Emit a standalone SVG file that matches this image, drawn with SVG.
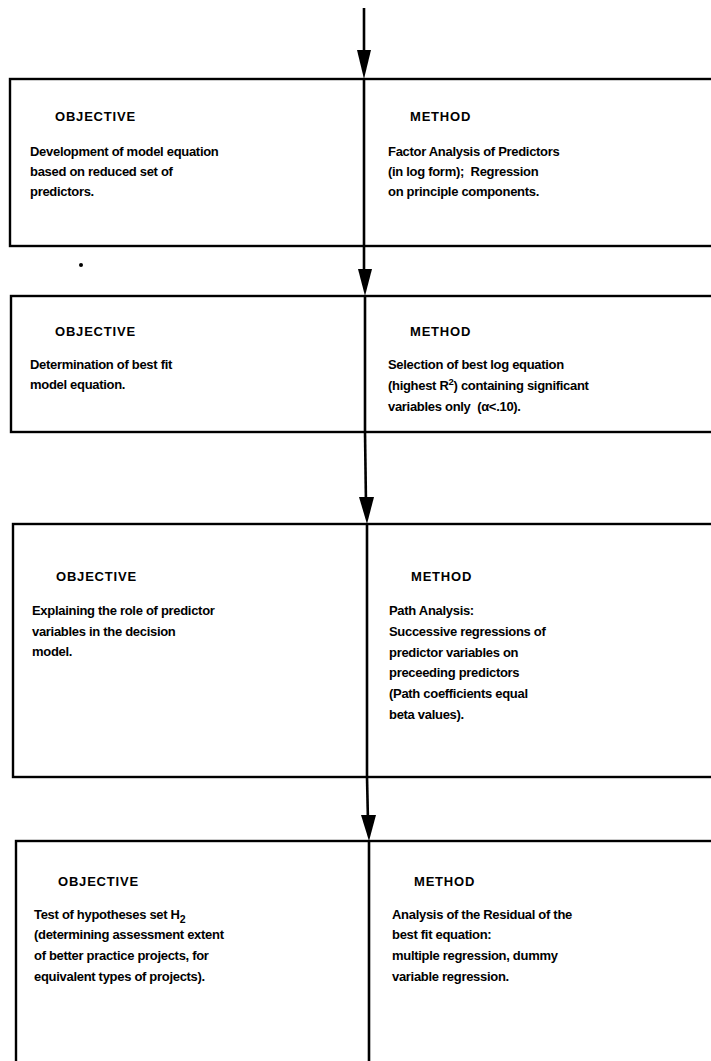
<svg xmlns="http://www.w3.org/2000/svg" width="711" height="1061" viewBox="0 0 711 1061">
  <style>
    .box { fill: #ffffff; stroke: #000000; stroke-width: 2.4; }
    .div { stroke: #000000; stroke-width: 2.6; }
    .flow { stroke: #000000; stroke-width: 2.6; fill: none; }
    .head { fill: #000000; }
    text { font-family: "Liberation Sans", Arial, sans-serif; font-weight: bold; font-size: 13px; letter-spacing: -0.3px; fill: #000000; }
    .hd { letter-spacing: 0.8px; }
  </style>
  <rect width="711" height="1061" fill="#ffffff"/>

  <!-- Stage 1 -->
  <g id="stage1">
    <rect class="box" x="10" y="79" width="720" height="167"/>
    <line class="div" x1="364" y1="79" x2="364" y2="246"/>
    <text class="hd" x="55" y="121">OBJECTIVE</text>
    <text x="30" y="156">Development of model equation</text>
    <text x="30" y="176">based on reduced set of</text>
    <text x="30" y="196">predictors.</text>
    <text class="hd" x="410" y="121">METHOD</text>
    <text x="388" y="156">Factor Analysis of Predictors</text>
    <text x="388" y="176" xml:space="preserve">(in log form);  Regression</text>
    <text x="388" y="196">on principle components.</text>
  </g>

  <!-- Stage 2 -->
  <g id="stage2">
    <rect class="box" x="11" y="296" width="720" height="136"/>
    <line class="div" x1="365" y1="296" x2="365" y2="432"/>
    <text class="hd" x="55" y="336">OBJECTIVE</text>
    <text x="30" y="369">Determination of best fit</text>
    <text x="30" y="389">model equation.</text>
    <text class="hd" x="410" y="336">METHOD</text>
    <text x="388" y="369">Selection of best log equation</text>
    <text x="388" y="390">(highest R<tspan font-size="9.5" dy="-5">2</tspan><tspan dy="5">) containing significant</tspan></text>
    <text x="388" y="411" xml:space="preserve">variables only  (α&lt;.10).</text>
  </g>

  <!-- Stage 3 -->
  <g id="stage3">
    <rect class="box" x="13" y="524" width="720" height="253"/>
    <line class="div" x1="367" y1="524" x2="367" y2="777"/>
    <text class="hd" x="56" y="581">OBJECTIVE</text>
    <text x="32" y="615">Explaining the role of predictor</text>
    <text x="32" y="636">variables in the decision</text>
    <text x="32" y="656">model.</text>
    <text class="hd" x="411" y="581">METHOD</text>
    <text x="389" y="615">Path Analysis:</text>
    <text x="389" y="636">Successive regressions of</text>
    <text x="389" y="657">predictor variables on</text>
    <text x="389" y="677">preceeding predictors</text>
    <text x="389" y="698">(Path coefficients equal</text>
    <text x="389" y="719">beta values).</text>
  </g>

  <!-- Stage 4 -->
  <g id="stage4">
    <rect class="box" x="16" y="841" width="720" height="240"/>
    <line class="div" x1="369" y1="841" x2="369" y2="1061"/>
    <text class="hd" x="58" y="886">OBJECTIVE</text>
    <text x="34" y="919">Test of hypotheses set H<tspan font-size="10.5" dy="4">2</tspan></text>
    <text x="34" y="939">(determining assessment extent</text>
    <text x="34" y="960">of better practice projects, for</text>
    <text x="34" y="981">equivalent types of projects).</text>
    <text class="hd" x="414" y="886">METHOD</text>
    <text x="392" y="919">Analysis of the Residual of the</text>
    <text x="392" y="939">best fit equation:</text>
    <text x="392" y="960">multiple regression, dummy</text>
    <text x="392" y="981">variable regression.</text>
  </g>

  <!-- Flow connectors with arrowheads -->
  <g id="connectors">
    <line class="flow" x1="364" y1="8" x2="364" y2="60"/>
    <polygon class="head" points="357,50 371,50 364,79"/>
    <line class="flow" x1="364" y1="246" x2="364" y2="278"/>
    <polygon class="head" points="358,269 372,269 365,296"/>
    <line class="flow" x1="365" y1="432" x2="366" y2="505"/>
    <polygon class="head" points="359,497 374,497 367,524"/>
    <line class="flow" x1="367" y1="777" x2="368" y2="822"/>
    <polygon class="head" points="361,815 376,815 369,841"/>
  </g>

  <!-- stray mark -->
  <circle cx="81" cy="265" r="2" fill="#000000"/>
</svg>
